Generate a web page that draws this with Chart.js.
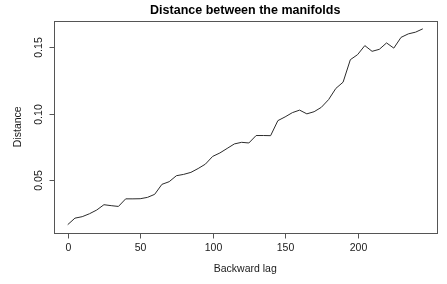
<!DOCTYPE html>
<html>
<head>
<meta charset="utf-8">
<script src="https://cdn.jsdelivr.net/npm/chart.js@4"></script>
<style>
  html, body { margin: 0; padding: 0; background: #fff; }
  canvas { display: block; }
</style>
</head>
<body>
<canvas id="c" width="447" height="284"></canvas>
<script>
const chartTitle = "Distance between the manifolds";
const xAxisTitle = "Backward lag";
const yAxisTitle = "Distance";
const lags = [0, 5, 10, 15, 20, 25, 30, 35, 40, 45, 50, 55, 60, 65, 70, 75, 80, 85, 90, 95,
  100, 105, 110, 115, 120, 125, 130, 135, 140, 145, 150, 155, 160, 165, 170, 175, 180, 185, 190, 195,
  200, 205, 210, 215, 220, 225, 230, 235, 240, 245];
const distances = [0.0168, 0.0217, 0.0228, 0.0250, 0.0278, 0.0318, 0.0311, 0.0305, 0.0362, 0.0362,
  0.0363, 0.0373, 0.0396, 0.0471, 0.0491, 0.0536, 0.0546, 0.0561, 0.0590, 0.0623,
  0.0681, 0.0707, 0.0741, 0.0775, 0.0787, 0.0782, 0.0838, 0.0838, 0.0837, 0.0950,
  0.0978, 0.1010, 0.1029, 0.1001, 0.1017, 0.1050, 0.1108, 0.1192, 0.1239, 0.1408,
  0.1446, 0.1514, 0.1471, 0.1486, 0.1534, 0.1495, 0.1576, 0.1602, 0.1615, 0.1640];
const xTicks = [0, 50, 100, 150, 200];
const yTicks = [0.05, 0.10, 0.15];
const yTickLabels = ["0.05", "0.10", "0.15"];

function rRange(vals) {
  const lo = Math.min(...vals), hi = Math.max(...vals);
  const e = (hi - lo) * 0.04;
  return [lo - e, hi + e];
}
const xr = rRange(lags);
const yr = rRange(distances);

const FONT = "'Liberation Sans', Arial, Helvetica, sans-serif";
const TEXT = "#1a1a1a";
const LINE = "#555";

const rAxes = {
  id: 'rAxes',
  afterDraw(chart) {
    const ctx = chart.ctx;
    const a = chart.chartArea;
    const xs = chart.scales.x, ys = chart.scales.y;
    ctx.save();
    ctx.strokeStyle = LINE;
    ctx.lineWidth = 1;
    // box
    ctx.strokeRect(Math.round(a.left) + 0.5, Math.round(a.top) + 0.5,
      Math.round(a.right) - Math.round(a.left), Math.round(a.bottom) - Math.round(a.top));
    const bottom = Math.round(a.bottom) + 0.5;
    const left = Math.round(a.left) + 0.5;
    // x ticks
    ctx.fillStyle = TEXT;
    ctx.font = "10.5px " + FONT;
    ctx.textAlign = "center";
    ctx.textBaseline = "middle";
    xTicks.forEach(v => {
      const px = Math.round(xs.getPixelForValue(v)) + 0.5;
      ctx.beginPath();
      ctx.moveTo(px, bottom);
      ctx.lineTo(px, bottom + 5);
      ctx.stroke();
      ctx.fillText(String(v), px, bottom + 15);
    });
    // y ticks
    yTicks.forEach((v, i) => {
      const py = Math.round(ys.getPixelForValue(v)) + 0.5;
      ctx.beginPath();
      ctx.moveTo(left, py);
      ctx.lineTo(left - 5, py);
      ctx.stroke();
      ctx.save();
      ctx.translate(left - 15.5, py);
      ctx.rotate(-Math.PI / 2);
      ctx.fillText(yTickLabels[i], 0, 0);
      ctx.restore();
    });
    // axis titles
    const cx = (a.left + a.right) / 2;
    const cy = (a.top + a.bottom) / 2;
    ctx.fillText(xAxisTitle, cx, 269);
    ctx.save();
    ctx.translate(18.5, cy);
    ctx.rotate(-Math.PI / 2);
    ctx.fillText(yAxisTitle, 0, 0);
    ctx.restore();
    // main title
    ctx.font = "bold 12.5px " + FONT;
    ctx.fillStyle = "#000";
    ctx.fillText(chartTitle, cx, 10.5);
    ctx.restore();
  }
};

new Chart(document.getElementById('c'), {
  type: 'line',
  data: {
    datasets: [{
      data: lags.map((x, i) => ({ x: x, y: distances[i] })),
      borderColor: '#2b2b2b',
      borderWidth: 1,
      pointRadius: 0,
      tension: 0,
      fill: false
    }]
  },
  options: {
    responsive: false,
    animation: false,
    devicePixelRatio: 1,
    layout: { padding: { top: 21, right: 10, left: 0, bottom: 0 } },
    plugins: { legend: { display: false }, title: { display: false }, tooltip: { enabled: false } },
    scales: {
      x: {
        type: 'linear', min: xr[0], max: xr[1],
        grid: { display: false }, border: { display: false },
        ticks: { display: false },
        afterFit: s => { s.height = 51.5; }
      },
      y: {
        type: 'linear', min: yr[0], max: yr[1],
        grid: { display: false }, border: { display: false },
        ticks: { display: false },
        afterFit: s => { s.width = 53.5; }
      }
    }
  },
  plugins: [rAxes]
});
</script>
</body>
</html>
